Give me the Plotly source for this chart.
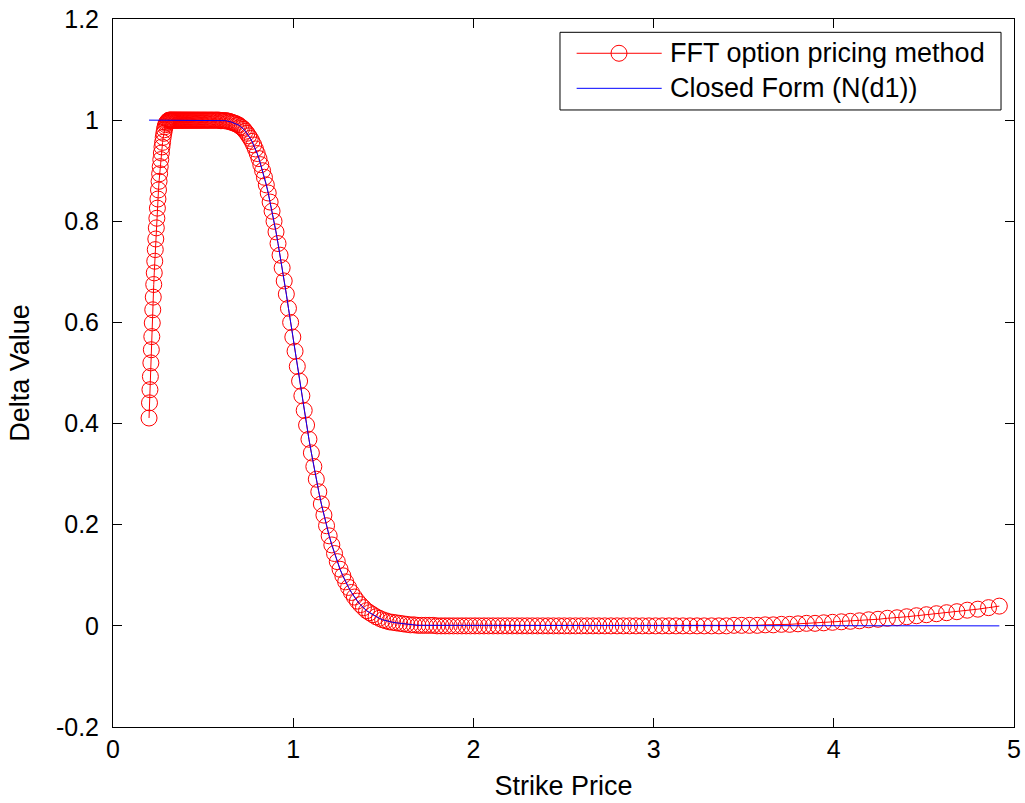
import plotly.graph_objects as go

# ---------------- data ----------------
strike = [
    0.2000, 0.2025, 0.2050, 0.2075, 0.2101, 0.2127, 0.2153, 0.2179, 0.2206, 0.2234,
    0.2261, 0.2289, 0.2317, 0.2346, 0.2375, 0.2404, 0.2434, 0.2464, 0.2494, 0.2525,
    0.2556, 0.2588, 0.2620, 0.2652, 0.2685, 0.2718, 0.2752, 0.2786, 0.2820, 0.2855,
    0.2890, 0.2926, 0.2962, 0.2998, 0.3035, 0.3073, 0.3111, 0.3149, 0.3188, 0.3227,
    0.3267, 0.3308, 0.3348, 0.3390, 0.3432, 0.3474, 0.3517, 0.3560, 0.3604, 0.3649,
    0.3694, 0.3739, 0.3786, 0.3832, 0.3880, 0.3927, 0.3976, 0.4025, 0.4075, 0.4125,
    0.4176, 0.4228, 0.4280, 0.4332, 0.4386, 0.4440, 0.4495, 0.4550, 0.4607, 0.4664,
    0.4721, 0.4779, 0.4838, 0.4898, 0.4959, 0.5020, 0.5082, 0.5145, 0.5208, 0.5272,
    0.5337, 0.5403, 0.5470, 0.5538, 0.5606, 0.5675, 0.5745, 0.5816, 0.5888, 0.5961,
    0.6034, 0.6109, 0.6184, 0.6260, 0.6338, 0.6416, 0.6495, 0.6575, 0.6657, 0.6739,
    0.6822, 0.6906, 0.6991, 0.7078, 0.7165, 0.7254, 0.7343, 0.7434, 0.7526, 0.7618,
    0.7713, 0.7808, 0.7904, 0.8002, 0.8101, 0.8201, 0.8302, 0.8404, 0.8508, 0.8613,
    0.8719, 0.8827, 0.8936, 0.9046, 0.9158, 0.9271, 0.9386, 0.9501, 0.9619, 0.9737,
    0.9858, 0.9979, 1.0103, 1.0227, 1.0354, 1.0481, 1.0611, 1.0742, 1.0874, 1.1009,
    1.1145, 1.1282, 1.1421, 1.1562, 1.1705, 1.1850, 1.1996, 1.2144, 1.2294, 1.2446,
    1.2599, 1.2755, 1.2912, 1.3072, 1.3233, 1.3397, 1.3562, 1.3729, 1.3899, 1.4070,
    1.4244, 1.4420, 1.4598, 1.4778, 1.4961, 1.5145, 1.5332, 1.5522, 1.5713, 1.5907,
    1.6104, 1.6302, 1.6504, 1.6708, 1.6914, 1.7123, 1.7334, 1.7548, 1.7765, 1.7984,
    1.8206, 1.8431, 1.8658, 1.8889, 1.9122, 1.9358, 1.9597, 1.9839, 2.0084, 2.0332,
    2.0583, 2.0837, 2.1094, 2.1354, 2.1618, 2.1885, 2.2155, 2.2429, 2.2705, 2.2986,
    2.3270, 2.3557, 2.3848, 2.4142, 2.4440, 2.4742, 2.5047, 2.5356, 2.5669, 2.5986,
    2.6307, 2.6632, 2.6961, 2.7294, 2.7631, 2.7972, 2.8317, 2.8667, 2.9020, 2.9379,
    2.9741, 3.0109, 3.0480, 3.0857, 3.1238, 3.1623, 3.2014, 3.2409, 3.2809, 3.3214,
    3.3624, 3.4039, 3.4459, 3.4885, 3.5316, 3.5752, 3.6193, 3.6640, 3.7092, 3.7550,
    3.8014, 3.8483, 3.8958, 3.9439, 3.9926, 4.0419, 4.0918, 4.1423, 4.1934, 4.2452,
    4.2976, 4.3507, 4.4044, 4.4587, 4.5138, 4.5695, 4.6259, 4.6830, 4.7408, 4.7994,
    4.8586, 4.9186,
]

delta_fft = [
    0.411, 0.441, 0.467, 0.493, 0.520, 0.546, 0.572, 0.599, 0.625, 0.650,
    0.675, 0.698, 0.721, 0.744, 0.765, 0.787, 0.806, 0.826, 0.844, 0.862,
    0.879, 0.894, 0.908, 0.922, 0.935, 0.947, 0.956, 0.966, 0.974, 0.981,
    0.987, 0.991, 0.994, 0.996, 0.998, 0.999, 1.000, 1.000, 1.000, 1.000,
    1.000, 1.000, 1.000, 1.000, 1.000, 1.000, 1.000, 1.000, 1.000, 1.000,
    1.000, 1.000, 1.000, 1.000, 1.000, 1.000, 1.000, 1.000, 1.000, 1.000,
    1.000, 1.000, 1.000, 1.000, 1.000, 1.000, 1.000, 1.000, 1.000, 1.000,
    1.000, 1.000, 1.000, 1.000, 1.000, 1.000, 1.000, 1.000, 1.000, 1.000,
    1.000, 1.000, 1.000, 1.000, 1.000, 1.000, 1.000, 1.000, 1.000, 0.999,
    0.999, 0.999, 0.999, 0.999, 0.998, 0.998, 0.997, 0.996, 0.995, 0.994,
    0.993, 0.991, 0.990, 0.987, 0.985, 0.982, 0.978, 0.974, 0.969, 0.964,
    0.958, 0.951, 0.943, 0.934, 0.924, 0.912, 0.900, 0.887, 0.872, 0.856,
    0.838, 0.820, 0.800, 0.779, 0.756, 0.733, 0.708, 0.682, 0.656, 0.628,
    0.600, 0.571, 0.543, 0.513, 0.484, 0.455, 0.426, 0.397, 0.369, 0.342,
    0.315, 0.290, 0.265, 0.241, 0.219, 0.198, 0.178, 0.160, 0.143, 0.127,
    0.112, 0.099, 0.087, 0.076, 0.066, 0.057, 0.049, 0.042, 0.036, 0.030,
    0.026, 0.022, 0.018, 0.015, 0.012, 0.010, 0.008, 0.007, 0.006, 0.005,
    0.004, 0.003, 0.002, 0.002, 0.001, 0.001, 0.001, 0.001, 0.001, 0.000,
    0.000, 0.000, 0.000, 0.000, 0.000, 0.000, 0.000, 0.000, 0.000, 0.000,
    0.000, 0.000, 0.000, 0.000, 0.000, 0.000, 0.000, 0.000, 0.000, 0.000,
    0.000, 0.000, 0.000, 0.000, 0.000, 0.000, 0.000, 0.000, 0.000, 0.000,
    0.000, 0.000, 0.000, 0.000, 0.000, 0.000, 0.000, 0.000, 0.000, 0.000,
    0.000, 0.000, 0.000, 0.000, 0.000, 0.000, 0.000, 0.000, 0.000, 0.000,
    0.000, 0.000, 0.001, 0.001, 0.001, 0.001, 0.002, 0.002, 0.003, 0.003,
    0.004, 0.005, 0.005, 0.006, 0.007, 0.008, 0.009, 0.010, 0.012, 0.013,
    0.015, 0.016, 0.018, 0.020, 0.022, 0.024, 0.026, 0.028, 0.031, 0.033,
    0.036, 0.039,
]

delta_closed = [
    1, 1, 1, 1, 1, 1, 1, 1, 1, 1,
    1, 1, 1, 1, 1, 1, 1, 1, 1, 1,
    1, 1, 1, 1, 1, 1, 1, 1, 1, 1,
    1, 1, 1, 1, 1, 1, 1, 1, 1, 1,
    1, 1, 1, 1, 1, 1, 1, 1, 1, 1,
    1, 1, 1, 1, 1, 1, 1, 1, 1, 1,
    1, 1, 1, 1, 1, 1, 1, 1, 1, 1,
    1, 1, 1, 1, 1, 1, 1, 1, 1, 1,
    1.000, 1.000, 1.000, 1.000, 1.000, 1.000, 1.000, 1.000, 1.000, 0.999,
    0.999, 0.999, 0.999, 0.999, 0.998, 0.998, 0.997, 0.996, 0.995, 0.994,
    0.993, 0.991, 0.990, 0.987, 0.985, 0.982, 0.978, 0.974, 0.969, 0.964,
    0.958, 0.951, 0.943, 0.934, 0.924, 0.912, 0.900, 0.887, 0.872, 0.856,
    0.838, 0.820, 0.800, 0.779, 0.756, 0.733, 0.708, 0.682, 0.656, 0.628,
    0.600, 0.571, 0.543, 0.513, 0.484, 0.455, 0.426, 0.397, 0.369, 0.342,
    0.315, 0.290, 0.265, 0.241, 0.219, 0.198, 0.178, 0.160, 0.143, 0.127,
    0.112, 0.099, 0.087, 0.076, 0.066, 0.057, 0.049, 0.042, 0.036, 0.030,
    0.026, 0.022, 0.018, 0.015, 0.012, 0.010, 0.008, 0.007, 0.006, 0.005,
    0.004, 0.003, 0.002, 0.002, 0.001, 0.001, 0.001, 0.001, 0.001, 0.000,
    0, 0, 0, 0, 0, 0, 0, 0, 0, 0,
    0, 0, 0, 0, 0, 0, 0, 0, 0, 0,
    0, 0, 0, 0, 0, 0, 0, 0, 0, 0,
    0, 0, 0, 0, 0, 0, 0, 0, 0, 0,
    0, 0, 0, 0, 0, 0, 0, 0, 0, 0,
    0, 0, 0, 0, 0, 0, 0, 0, 0, 0,
    0, 0, 0, 0, 0, 0, 0, 0, 0, 0,
    0, 0, 0, 0, 0, 0, 0, 0, 0, 0,
    0, 0,
]

series_names = ["FFT option pricing method", "Closed Form (N(d1))"]
x_ticks = [0, 1, 2, 3, 4, 5]
x_tick_text = ["0", "1", "2", "3", "4", "5"]
y_ticks = [-0.2, 0, 0.2, 0.4, 0.6, 0.8, 1.0, 1.2]
y_tick_text = ["-0.2", "0", "0.2", "0.4", "0.6", "0.8", "1", "1.2"]

RED = "#FF0000"
BLUE = "#0000FF"
FONT = "Liberation Sans, Arial, Helvetica, sans-serif"

fig = go.Figure()
fig.add_trace(go.Scatter(
    x=strike, y=delta_fft, mode="lines+markers", name=series_names[0],
    line=dict(color=RED, width=1),
    marker=dict(symbol="circle-open", size=16, color=RED, line=dict(width=1, color=RED)),
))
fig.add_trace(go.Scatter(
    x=strike, y=delta_closed, mode="lines", name=series_names[1],
    line=dict(color=BLUE, width=1),
))

# ---- legend drawn MATLAB-style (long line samples) ----
lx0, lx1, ly0, ly1 = 0.4961, 0.9856, 0.8715, 0.9812
row_y = [0.9516, 0.9021]
samp_x0, samp_x1, samp_mid, text_x = 0.5146, 0.6090, 0.5616, 0.6160
shapes = [
    dict(type="rect", xref="paper", yref="paper", x0=lx0, x1=lx1, y0=ly0, y1=ly1,
         line=dict(color="black", width=1), fillcolor="white", layer="above"),
    dict(type="line", xref="paper", yref="paper", x0=samp_x0, x1=samp_x1,
         y0=row_y[0], y1=row_y[0], line=dict(color=RED, width=1)),
    dict(type="circle", xref="paper", yref="paper", xsizemode="pixel", ysizemode="pixel",
         xanchor=samp_mid, yanchor=row_y[0], x0=-8, x1=8, y0=-8, y1=8,
         line=dict(color=RED, width=1)),
    dict(type="line", xref="paper", yref="paper", x0=samp_x0, x1=samp_x1,
         y0=row_y[1], y1=row_y[1], line=dict(color=BLUE, width=1)),
]
annotations = [
    dict(xref="paper", yref="paper", x=text_x, y=row_y[k], xanchor="left", yanchor="middle",
         text=series_names[k], showarrow=False, font=dict(size=27, color="black", family=FONT))
    for k in range(2)
]

axis_common = dict(
    showline=True, linecolor="black", linewidth=1, mirror="ticks",
    ticks="inside", ticklen=9, tickwidth=1, tickcolor="black",
    showgrid=False, zeroline=False, automargin=False,
    tickfont=dict(size=25, color="black", family=FONT),
)

fig.update_layout(
    width=1025, height=803,
    margin=dict(l=113, r=11, t=19, b=76),
    paper_bgcolor="white", plot_bgcolor="white",
    showlegend=False,
    font=dict(family=FONT, color="black"),
    shapes=shapes, annotations=annotations,
    xaxis=dict(range=[0, 5], tickvals=x_ticks, ticktext=x_tick_text,
               title=dict(text="Strike Price", font=dict(size=27, color="black", family=FONT), standoff=14),
               **axis_common),
    yaxis=dict(range=[-0.2, 1.2], tickvals=y_ticks, ticktext=y_tick_text,
               ticklabelstandoff=8,
               title=dict(text="Delta Value", font=dict(size=27, color="black", family=FONT), standoff=18),
               **axis_common),
)

fig.write_html("out.html", config={"displayModeBar": False},
               post_script="document.body.style.margin='0px';")
